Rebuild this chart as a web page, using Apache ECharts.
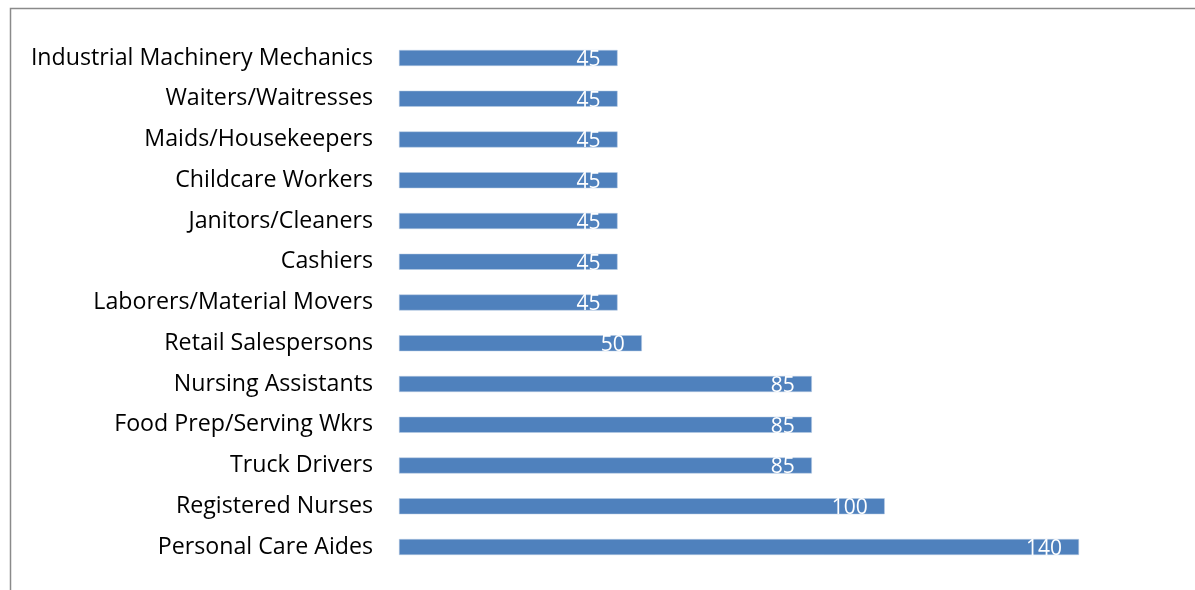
<!DOCTYPE html>
<html>
<head>
<meta charset="utf-8">
<script src="https://cdn.jsdelivr.net/npm/echarts@6/dist/echarts.min.js"></script>
<style>
html,body{margin:0;padding:0;background:#fff;}
#main{width:1195px;height:590px;}
</style>
</head>
<body>
<div id="main"></div>
<script>
const categories = [
  "Personal Care Aides",
  "Registered Nurses",
  "Truck Drivers",
  "Food Prep/Serving Wkrs",
  "Nursing Assistants",
  "Retail Salespersons",
  "Laborers/Material Movers",
  "Cashiers",
  "Janitors/Cleaners",
  "Childcare Workers",
  "Maids/Housekeepers",
  "Waiters/Waitresses",
  "Industrial Machinery Mechanics"
];
const values = [140, 100, 85, 85, 85, 50, 45, 45, 45, 45, 45, 45, 45];

const chart = echarts.init(document.getElementById('main'));
chart.setOption({
  animation: false,
  backgroundColor: '#fff',
  graphic: [{
    type: 'rect',
    shape: {x: 10.5, y: 8.5, width: 1400, height: 800},
    style: {fill: 'none', stroke: '#8a8a8a', lineWidth: 1.5},
    silent: true
  }],
  grid: {left: 399, right: 116, top: 37.6, bottom: 22.6, containLabel: false},
  xAxis: {
    type: 'value', min: 0, max: 140,
    show: false
  },
  yAxis: {
    type: 'category',
    data: categories,
    axisLine: {show: false},
    axisTick: {show: false},
    splitLine: {show: false},
    axisLabel: {
      margin: 26,
      fontFamily: 'Open Sans',
      fontSize: 23.2,
      padding: [5, 0, 0, 0],
      color: '#000'
    }
  },
  series: [{
    type: 'bar',
    data: values,
    barWidth: 16,
    itemStyle: {color: '#4F81BD', borderColor: '#b9cde5', borderWidth: 0.5},
    label: {
      show: true,
      position: 'insideRight',
      distance: 17,
      offset: [0, 2],
      color: '#fff',
      fontFamily: 'Open Sans',
      fontSize: 21
    }
  }]
});
</script>
</body>
</html>
